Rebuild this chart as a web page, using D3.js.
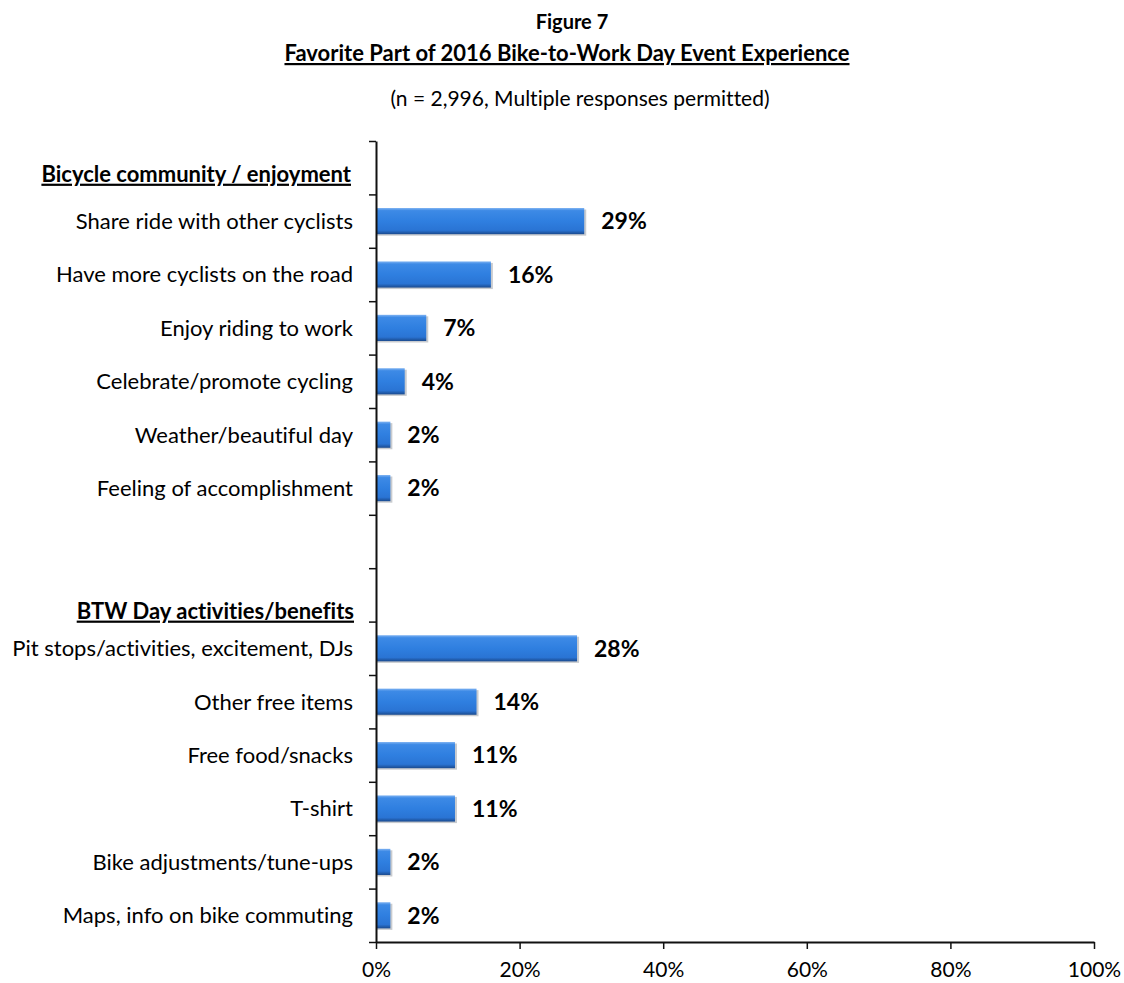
<!DOCTYPE html>
<html>
<head>
<meta charset="utf-8">
<script src="https://cdn.jsdelivr.net/npm/d3@7"></script>
<style>
  html, body { margin: 0; padding: 0; background: #fff; }
  svg { display: block; }
  text { font-family: Lato, "Open Sans", sans-serif; fill: #000; font-variant-ligatures: none; }
</style>
</head>
<body>
<svg id="chart" width="1124" height="983"></svg>
<script>
// ---- data ----
const groupHeaders = ["Bicycle community / enjoyment", "BTW Day activities/benefits"];
const group1Labels = ["Share ride with other cyclists", "Have more cyclists on the road", "Enjoy riding to work",
  "Celebrate/promote cycling", "Weather/beautiful day", "Feeling of accomplishment"];
const group1Values = [29, 16, 7, 4, 2, 2];
const group2Labels = ["Pit stops/activities, excitement, DJs", "Other free items", "Free food/snacks",
  "T-shirt", "Bike adjustments/tune-ups", "Maps, info on bike commuting"];
const group2Values = [28, 14, 11, 11, 2, 2];
const xTicks = [0, 20, 40, 60, 80, 100];
const titleLine1 = "Figure 7";
const titleLine2 = "Favorite Part of 2016 Bike-to-Work Day Event Experience";
const subtitle = "(n = 2,996, Multiple responses permitted)";

(function () {
// slots (rows) of the category axis
const slots = ["H0", ...group1Labels, "GAP", "H1", ...group2Labels];
const bars = [
  ...group1Labels.map((l, i) => ({ label: l, value: group1Values[i] })),
  ...group2Labels.map((l, i) => ({ label: l, value: group2Values[i] }))
];

const svg = d3.select("#chart");
const mLeft = 376, mRight = 1094, mTop = 141, mBottom = 942;

const x = d3.scaleLinear().domain([0, 100]).range([mLeft, mRight]);
const y = d3.scaleBand().domain(slots).range([mTop, mBottom]).padding(0);
const yIdx = d3.scaleLinear().domain([0, slots.length]).range([mTop, mBottom]);

// gradient
const defs = svg.append("defs");
const grad = defs.append("linearGradient").attr("id", "barGrad")
  .attr("x1", 0).attr("y1", 0).attr("x2", 0).attr("y2", 1);
[["0%", "#7fb3f2"], ["10%", "#3d8ae6"], ["50%", "#2f7fe0"], ["85%", "#2a74d4"], ["100%", "#1a4a8e"]]
  .forEach(([o, c]) => grad.append("stop").attr("offset", o).attr("stop-color", c));

// titles
svg.append("text").attr("x", 572).attr("y", 29).attr("text-anchor", "middle")
  .style("font-weight", "bold").style("font-size", "20px").text(titleLine1);
svg.append("text").attr("x", 567).attr("y", 61).attr("text-anchor", "middle")
  .style("font-weight", "bold").style("font-size", "22px").style("text-decoration", "underline")
  .text(titleLine2);
svg.append("text").attr("x", 580).attr("y", 106).attr("text-anchor", "middle")
  .style("font-size", "21px").text(subtitle);

// bars
const barH = y.bandwidth() * 0.49;
const g = svg.append("g");
g.selectAll("rect.shadow").data(bars).join("rect")
  .attr("class", "shadow")
  .attr("x", x(0) + 1)
  .attr("y", d => y(d.label) + (y.bandwidth() - barH) / 2 + 1.5)
  .attr("width", d => x(d.value) - x(0) + 1)
  .attr("height", barH)
  .attr("fill", "#9aa0a8").attr("opacity", 0.55);
g.selectAll("rect.bar").data(bars).join("rect")
  .attr("class", "bar")
  .attr("x", x(0))
  .attr("y", d => y(d.label) + (y.bandwidth() - barH) / 2)
  .attr("width", d => x(d.value) - x(0))
  .attr("height", barH)
  .attr("fill", "url(#barGrad)");

// value labels
g.selectAll("text.val").data(bars).join("text")
  .attr("class", "val")
  .attr("x", d => x(d.value) + 17)
  .attr("y", d => y(d.label) + y.bandwidth() / 2)
  .attr("dy", "0.36em")
  .style("font-weight", "bold").style("font-size", "23px")
  .text(d => d.value + "%");

// category labels
g.selectAll("text.cat").data(bars).join("text")
  .attr("class", "cat")
  .attr("x", 353)
  .attr("y", d => y(d.label) + y.bandwidth() / 2)
  .attr("dy", "0.36em")
  .attr("text-anchor", "end")
  .style("font-size", "22px")
  .text(d => d.label);

// group headers
svg.append("text").attr("x", 351).attr("y", y("H0") + y.bandwidth() / 2 + 14)
  .attr("text-anchor", "end").style("font-weight", "bold").style("font-size", "22px")
  .style("text-decoration", "underline").text(groupHeaders[0]);
svg.append("text").attr("x", 354).attr("y", y("H1") + y.bandwidth() - 3)
  .attr("text-anchor", "end").style("font-weight", "bold").style("font-size", "22px")
  .style("text-decoration", "underline").text(groupHeaders[1]);

// y axis (ticks at row boundaries)
const yAxis = svg.append("g").attr("transform", `translate(${mLeft},0)`)
  .call(d3.axisLeft(yIdx).tickValues(d3.range(slots.length + 1)).tickFormat("").tickSize(7).tickSizeOuter(0));
yAxis.select(".domain").attr("stroke", "#111").attr("stroke-width", 2);
yAxis.selectAll(".tick line").attr("stroke", "#111").attr("stroke-width", 1.5);

// x axis
const xAxis = svg.append("g").attr("transform", `translate(0,${mBottom})`)
  .call(d3.axisBottom(x).tickValues(xTicks).tickFormat(d => d + "%").tickSize(7).tickSizeOuter(0).tickPadding(13));
xAxis.select(".domain").attr("stroke", "#111").attr("stroke-width", 2);
xAxis.selectAll(".tick line").attr("stroke", "#111").attr("stroke-width", 1.5);
xAxis.selectAll(".tick text").style("font-family", "Lato, 'Open Sans', sans-serif")
  .style("font-size", "21px").attr("fill", "#000");
})();
</script>
</body>
</html>
